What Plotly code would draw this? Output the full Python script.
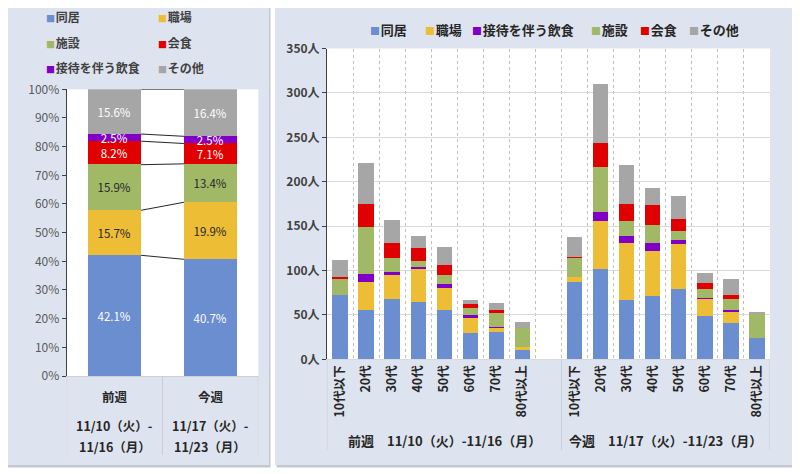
import plotly.graph_objects as go

# ---------------- data ----------------
left_weeks = ["前週", "今週"]
left_date_from = ["11/10（火）-", "11/17（火）-"]
left_date_to = ["11/16（月）", "11/23（月）"]
left_series = ["同居", "職場", "施設", "会食", "接待を伴う飲食", "その他"]
share_prev = [42.1, 15.7, 15.9, 8.2, 2.5, 15.6]
share_curr = [40.7, 19.9, 13.4, 7.1, 2.5, 16.4]

age_groups = ["10代以下", "20代", "30代", "40代", "50代", "60代", "70代", "80代以上"]
group_labels = ["前週　11/10（火）-11/16（月）", "今週　11/17（火）-11/23（月）"]
right_series = ["同居", "職場", "接待を伴う飲食", "施設", "会食", "その他"]

prev_doukyo = [73, 56, 68, 65, 56, 30, 31, 12]
prev_shokuba = [0, 32, 27, 37, 25, 17, 5, 2]
prev_settai = [0, 9, 4, 3, 4, 3, 1, 0]
prev_shisetsu = [19, 53, 16, 6, 10, 8, 16, 22]
prev_kaishoku = [1, 25, 16, 15, 12, 5, 3, 0]
prev_sonota = [19, 47, 26, 13, 20, 4, 8, 7]

curr_doukyo = [88, 102, 67, 72, 80, 49, 42, 24]
curr_shokuba = [5, 54, 65, 51, 50, 20, 12, 0]
curr_settai = [0, 10, 7, 8, 5, 1, 2, 0]
curr_shisetsu = [22, 51, 17, 21, 10, 10, 13, 28]
curr_kaishoku = [1, 27, 20, 22, 14, 6, 4, 0]
curr_sonota = [22, 67, 43, 20, 25, 12, 18, 2]

# ---------------- style ----------------
colors = {
    "同居": "#6A8ECF",
    "職場": "#EEBD36",
    "施設": "#A1B866",
    "会食": "#E00000",
    "接待を伴う飲食": "#8000C8",
    "その他": "#A6A6A6",
}
label_colors = {
    "同居": "white", "職場": "#262626", "施設": "#262626",
    "会食": "white", "接待を伴う飲食": "white", "その他": "white",
}
FONT = "Noto Sans CJK JP"
W, H = 800, 474
PANEL = "#DEE4EF"
OFF = 8  # page body margin of the browser

# legend item anchor positions (pixels, layout only)
left_legend_pos = {
    "同居": (44, 17), "職場": (156, 17),
    "施設": (44, 43), "会食": (156, 43),
    "接待を伴う飲食": (44, 67), "その他": (156, 67),
}
right_legend_x = [368, 423, 470, 589, 638, 687]
right_legend_y = 29

prev_map = {"同居": prev_doukyo, "職場": prev_shokuba, "接待を伴う飲食": prev_settai,
            "施設": prev_shisetsu, "会食": prev_kaishoku, "その他": prev_sonota}
curr_map = {"同居": curr_doukyo, "職場": curr_shokuba, "接待を伴う飲食": curr_settai,
            "施設": curr_shisetsu, "会食": curr_kaishoku, "その他": curr_sonota}


def px_x(p):
    return max(p - OFF, 0) / W


def px_y(p):
    return 1 - max(p - OFF, 0) / H


fig = go.Figure()

# ---------- left: 100% stacked ----------
LW = 0.553
left_x = list(range(len(left_weeks)))
for i, name in enumerate(left_series):
    fig.add_trace(go.Bar(
        x=left_x, y=[share_prev[i], share_curr[i]], width=LW,
        name=name, marker=dict(color=colors[name], line=dict(width=0)),
        texttemplate="%{y:.1f}%", textposition="inside", insidetextanchor="middle",
        textangle=0, constraintext="none",
        textfont=dict(color=label_colors[name], size=11.5, family=FONT),
        xaxis="x", yaxis="y", showlegend=False, hoverinfo="skip",
    ))

# series lines between the two bars
cum_prev, cum_curr = [], []
sp = sc = 0.0
for a, b in zip(share_prev, share_curr):
    sp += a
    sc += b
    cum_prev.append(sp)
    cum_curr.append(sc)
for a, b in zip(cum_prev, cum_curr):
    fig.add_trace(go.Scatter(
        x=[left_x[0] + LW / 2, left_x[1] - LW / 2], y=[a, b], mode="lines",
        line=dict(color="#262626", width=1), showlegend=False,
        xaxis="x", yaxis="y", hoverinfo="skip",
    ))

# ---------- right: stacked counts ----------
RW = 0.59
n = len(age_groups)
right_x = list(range(n)) + [n + 1 + k for k in range(n)]
for name in right_series:
    fig.add_trace(go.Bar(
        x=right_x, y=prev_map[name] + curr_map[name], width=RW,
        name=name, marker=dict(color=colors[name], line=dict(width=0)),
        xaxis="x2", yaxis="y2", showlegend=False, hoverinfo="skip",
    ))

LEFT_DOM_X = [px_x(66.7), px_x(258.3)]
LEFT_DOM_Y = [px_y(376), px_y(89.3)]
RIGHT_DOM_X = [px_x(327), px_x(770)]
RIGHT_DOM_Y = [px_y(359.3), px_y(48.5)]

# ---------- shapes ----------
shapes = []
for (x0, x1) in [(3, 269), (275, 797)]:
    shapes.append(dict(type="rect", xref="paper", yref="paper", layer="below",
                       x0=px_x(x0 + 1.5), x1=px_x(x1 + 1.5), y0=px_y(467.5), y1=px_y(5),
                       fillcolor="#C4C8D0", line=dict(width=0)))
    shapes.append(dict(type="rect", xref="paper", yref="paper", layer="below",
                       x0=px_x(x0), x1=px_x(x1), y0=px_y(465), y1=px_y(3),
                       fillcolor=PANEL, line=dict(width=0)))
for xr, yr in [("x domain", "y domain"), ("x2 domain", "y2 domain")]:
    shapes.append(dict(type="rect", xref=xr, yref=yr, layer="below",
                       x0=0, x1=1, y0=0, y1=1, fillcolor="white", line=dict(width=0)))

for xv in [-0.5, 0.5, 1.5]:
    shapes.append(dict(type="line", xref="x", yref="paper", x0=xv, x1=xv,
                       y0=px_y(455), y1=LEFT_DOM_Y[0], line=dict(color="#C9CED8", width=1)))
for xv in [-0.5, n + 0.5, 2 * n + 0.5]:
    shapes.append(dict(type="line", xref="x2", yref="paper", x0=xv, x1=xv,
                       y0=px_y(450), y1=RIGHT_DOM_Y[0], line=dict(color="#C9CED8", width=1)))

# ---------- annotations ----------
annotations = []
for cx, txt in zip([n / 2, n + 1 + (n - 1) / 2], group_labels):
    annotations.append(dict(x=cx, y=px_y(440), xref="x2", yref="paper", text=txt,
                            showarrow=False, xanchor="center", yanchor="middle",
                            font=dict(family=FONT, size=13, color="#262626", weight="bold")))
for xv, d1, d2 in zip(left_x, left_date_from, left_date_to):
    for yy, t in [(425, d1), (446, d2)]:
        annotations.append(dict(x=xv, y=px_y(yy), xref="x", yref="paper", text=t,
                                showarrow=False, xanchor="center", yanchor="middle",
                                font=dict(family=FONT, size=12.5, color="#262626",
                                          weight="bold")))


def legend_text(name, sq):
    return (f"<span style='color:{colors[name]};font-size:{sq}px'>■</span>"
            f"<span style='font-size:3px'> </span>{name}")


for name in left_series:
    lx, ly = left_legend_pos[name]
    annotations.append(dict(x=px_x(lx), y=px_y(ly), xref="paper", yref="paper",
                            text=legend_text(name, 9), showarrow=False,
                            xanchor="left", yanchor="middle",
                            font=dict(family=FONT, size=12, color="#404040", weight="bold")))
for name, lx in zip(right_series, right_legend_x):
    annotations.append(dict(x=px_x(lx), y=px_y(right_legend_y), xref="paper", yref="paper",
                            text=legend_text(name, 10), showarrow=False,
                            xanchor="left", yanchor="middle",
                            font=dict(family=FONT, size=13, color="#262626", weight="bold")))

fig.update_layout(
    width=W, height=H,
    margin=dict(l=0, r=0, t=0, b=0, autoexpand=False),
    paper_bgcolor="white", plot_bgcolor="white",
    barmode="stack", bargap=0,
    font=dict(family=FONT, size=12, color="#404040"),
    uniformtext=dict(mode="show", minsize=11.5),
    showlegend=False,
    shapes=shapes, annotations=annotations,
    xaxis=dict(domain=LEFT_DOM_X, anchor="y", range=[-0.5, 1.5],
               tickmode="array", tickvals=left_x, ticktext=left_weeks,
               tickfont=dict(family=FONT, size=12.5, color="#262626", weight="bold"),
               ticklabelstandoff=10,
               showgrid=False, zeroline=False, showline=True, linecolor="#D0D0D0",
               ticks="", fixedrange=True),
    yaxis=dict(domain=LEFT_DOM_Y, anchor="x", range=[0, 100], dtick=10,
               ticksuffix="%", showgrid=False, zeroline=False,
               showline=True, linecolor="#404040", ticks="outside", ticklen=4,
               tickcolor="#404040", tickfont=dict(family=FONT, size=12, color="#595959"),
               fixedrange=True),
    xaxis2=dict(domain=RIGHT_DOM_X, anchor="y2", range=[-0.5, 2 * n + 0.5],
                tickmode="array", tickvals=right_x, ticktext=age_groups + age_groups,
                tickangle=-90,
                tickfont=dict(family=FONT, size=12.5, color="#262626", weight="bold"),
                showgrid=False, zeroline=False, showline=True, linecolor="#D9D9D9",
                ticks="",
                minor=dict(tickmode="array",
                           tickvals=[k + 0.5 for k in range(-1, 2 * n + 1)],
                           showgrid=True, gridcolor="#BFBFBF", griddash="dot", gridwidth=1,
                           ticks=""),
                fixedrange=True),
    yaxis2=dict(domain=RIGHT_DOM_Y, anchor="x2", range=[0, 350], dtick=50,
                ticksuffix="人", showgrid=True, gridcolor="#D9D9D9", zeroline=False,
                showline=True, linecolor="#404040", ticks="outside", ticklen=4,
                tickcolor="#404040",
                tickfont=dict(family=FONT, size=12, color="#404040", weight="bold"),
                fixedrange=True),
)

fig.write_html("out.html")
